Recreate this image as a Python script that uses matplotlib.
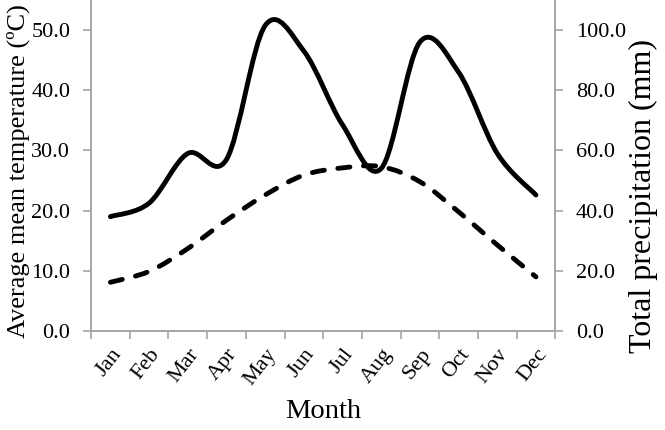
import numpy as np
import matplotlib
matplotlib.use("Agg")
import matplotlib.pyplot as plt
from matplotlib.path import Path
from matplotlib.patches import PathPatch

# Monthly climate data
months = ["Jan", "Feb", "Mar", "Apr", "May", "Jun",
          "Jul", "Aug", "Sep", "Oct", "Nov", "Dec"]
temperature = [8.1, 9.9, 13.7, 18.4, 22.6, 25.9, 27.1, 27.3, 24.8, 19.8, 14.3, 9.0]
precipitation = [38, 42.5, 59, 57, 101.5, 93, 68.5, 54, 96, 86, 59, 45.2]

plt.rcParams["font.family"] = ["Liberation Serif", "DejaVu Serif"]
GRAY = "#a6a6a6"


def smooth_line(ax, x, y, **kw):
    # Excel-style smoothed line: cubic Bezier segments through the points
    x = np.asarray(x, float)
    y = np.asarray(y, float)
    n = len(x)
    verts = [(x[0], y[0])]
    codes = [Path.MOVETO]
    for i in range(n - 1):
        xp, yp = (x[i - 1], y[i - 1]) if i > 0 else (x[i], y[i])
        xn, yn = (x[i + 2], y[i + 2]) if i + 2 < n else (x[i + 1], y[i + 1])
        c1 = (x[i] + (x[i + 1] - xp) / 6, y[i] + (y[i + 1] - yp) / 6)
        c2 = (x[i + 1] - (xn - x[i]) / 6, y[i + 1] - (yn - y[i]) / 6)
        verts += [c1, c2, (x[i + 1], y[i + 1])]
        codes += [Path.CURVE4] * 3
    patch = PathPatch(Path(verts, codes), fill=False, **kw)
    ax.add_patch(patch)
    return patch


fig = plt.figure(figsize=(6.65, 4.3), dpi=100)
ax = fig.add_axes([0.137, 0.2302, 0.698, 0.770])
ax2 = ax.twinx()

xs = np.arange(len(months))
smooth_line(ax, xs, temperature, edgecolor="black", linewidth=3.5,
            linestyle=(0, (2.5, 2.8)), capstyle="round")
smooth_line(ax2, xs, precipitation, edgecolor="black", linewidth=3.5,
            capstyle="round")

ax.set_xlim(-0.5, 11.5)
ax.set_ylim(0, 55)
ax2.set_ylim(0, 110)
ax.set_yticks(np.arange(0, 51, 10))
ax2.set_yticks(np.arange(0, 101, 20))
ax.set_yticklabels([f"{v:.1f}" for v in np.arange(0, 51, 10)])
ax2.set_yticklabels([f"{v:.1f}" for v in np.arange(0, 101, 20)])

ax.set_xticks(xs)
ax.set_xticklabels(months, rotation=52, ha="right", rotation_mode="anchor")
ax.set_xticks(np.arange(-0.5, 12, 1), minor=True)
ax.tick_params(axis="x", which="major", length=0, pad=10, labelsize=16)
ax.tick_params(axis="x", which="minor", length=6, color=GRAY, width=1.2)
ax.tick_params(axis="y", length=6, color=GRAY, width=1.2, labelsize=16, pad=9)
ax2.tick_params(axis="y", length=6, color=GRAY, width=1.2, labelsize=16, pad=9)

for a in (ax, ax2):
    a.spines["top"].set_visible(False)
    for s in ("left", "right", "bottom"):
        a.spines[s].set_color(GRAY)
        a.spines[s].set_linewidth(1.2)

ax.set_xlabel("Month", fontsize=20.5)
ax.set_ylabel("Average mean temperature (ºC)", fontsize=19)
ax2.set_ylabel("Total precipitation (mm)", fontsize=23)
ax.xaxis.set_label_coords(0.5, -0.205)
ax.yaxis.set_label_coords(-0.132, 0.483)
ax2.yaxis.set_label_coords(1.1595, 0.408)

fig.savefig("out.png", dpi=100)
